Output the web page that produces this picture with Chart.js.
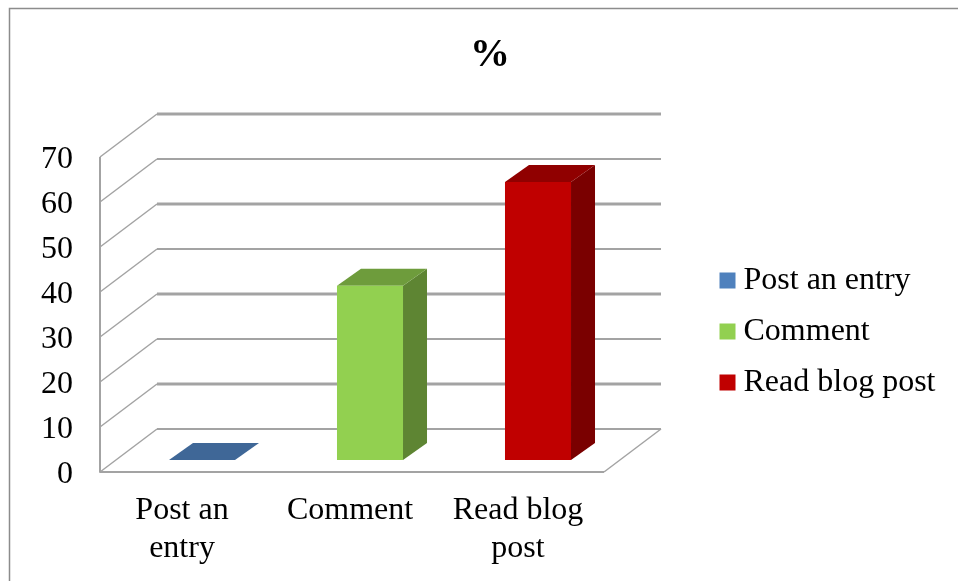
<!DOCTYPE html>
<html>
<head>
<meta charset="utf-8">
<style>html,body{margin:0;padding:0;background:#fff}canvas{display:block}</style>
<script src="https://cdn.jsdelivr.net/npm/chart.js@4"></script>
</head>
<body>
<canvas id="c" width="958" height="581"></canvas>
<script>
const categories = [['Post an','entry'],['Comment'],['Read blog','post']];
const values = [0, 38.7, 61.8];
const yTicks = [0,10,20,30,40,50,60,70];
const frontColors = ['#4F81BD','#92D050','#C00000'];
const topColors = ['#3F6797','#6E9C3C','#900000'];
const sideColors = ['#3F6797','#5E8533','#7A0000'];
const thickGrid = [10,30,50,70];
const FONT = '"Liberation Serif"';
const WALL = {dx:57, dy:-43};
const BAR_SHIFT = {dx:18, dy:-12};
const BAR_DEPTH = {dx:24, dy:-17};
const GRID = '#A3A3A3';

function quad(ctx, pts, color){
  ctx.fillStyle = color;
  ctx.beginPath();
  pts.forEach((p,i)=> i ? ctx.lineTo(p[0],p[1]) : ctx.moveTo(p[0],p[1]));
  ctx.closePath();
  ctx.fill();
}

const scene3d = {
  id:'scene3d',
  afterLayout(chart){
    const t = chart.titleBlock; t.left = 0; t.right = 980;
    const l = chart.legend;
    l.left = 708.5; l.right = chart.width;
    l.top += 41; l.bottom += 41;
  },
  beforeDraw(chart){
    const ctx = chart.ctx;
    ctx.save();
    ctx.strokeStyle = '#8C8C8C';
    ctx.lineWidth = 1.5;
    ctx.beginPath();
    ctx.moveTo(9.5,chart.height); ctx.lineTo(9.5,8.5); ctx.lineTo(chart.width,8.5);
    ctx.stroke();
    ctx.restore();
  },
  beforeDatasetsDraw(chart){
    const ctx = chart.ctx, ys = chart.scales.y, a = chart.chartArea;
    ctx.save();
    ctx.strokeStyle = GRID;
    ctx.lineJoin = 'round';
    yTicks.forEach(v=>{
      const y = ys.getPixelForValue(v);
      ctx.lineWidth = 1.5;
      ctx.beginPath();
      ctx.moveTo(a.left,y); ctx.lineTo(a.left+WALL.dx,y+WALL.dy);
      ctx.stroke();
      ctx.lineWidth = thickGrid.includes(v) ? 3 : 2;
      ctx.beginPath();
      ctx.moveTo(a.left+WALL.dx,y+WALL.dy); ctx.lineTo(a.right+WALL.dx,y+WALL.dy);
      ctx.stroke();
    });
    ctx.lineWidth = 2;
    ctx.beginPath();
    ctx.moveTo(a.left,a.top); ctx.lineTo(a.left,a.bottom); ctx.lineTo(a.right,a.bottom);
    ctx.stroke();
    ctx.lineWidth = 1.5;
    ctx.beginPath();
    ctx.moveTo(a.right,a.bottom); ctx.lineTo(a.right+WALL.dx,a.bottom+WALL.dy);
    ctx.stroke();
    ctx.restore();
    ctx.save();
    ctx.translate(BAR_SHIFT.dx,BAR_SHIFT.dy);
    chart.getDatasetMeta(0).data.forEach((bar,i)=>{
      const L = bar.x-bar.width/2, R = bar.x+bar.width/2, T = bar.y, B = bar.base;
      const d = BAR_DEPTH;
      quad(ctx,[[R,T],[R+d.dx,T+d.dy],[R+d.dx,B+d.dy],[R,B]],sideColors[i]);
      quad(ctx,[[L,T],[R,T],[R+d.dx,T+d.dy],[L+d.dx,T+d.dy]],topColors[i]);
    });
  },
  afterDatasetsDraw(chart){
    chart.ctx.restore();
  }
};

new Chart(document.getElementById('c'),{
  type:'bar',
  data:{
    labels:categories,
    datasets:[{label:'%',data:values,backgroundColor:frontColors,borderWidth:0,
      categoryPercentage:1,barPercentage:0.393,clip:false}]
  },
  plugins:[scene3d],
  options:{
    responsive:false,
    animation:false,
    devicePixelRatio:1,
    layout:{padding:{left:22,right:254,top:0,bottom:0}},
    plugins:{
      tooltip:{enabled:false},
      title:{display:true,text:'%',color:'#000',
        font:{family:FONT,size:40,weight:'bold'},
        padding:{top:32,bottom:77}},
      legend:{
        position:'right',
        maxWidth:100,
        labels:{
          color:'#000',
          font:{family:FONT,size:32},
          usePointStyle:true,
          boxWidth:0.01,
          boxHeight:16,
          padding:19,
          generateLabels(){
            return categories.map((c,i)=>({
              text:c.join(' '),fillStyle:frontColors[i],strokeStyle:frontColors[i],
              lineWidth:0,pointStyle:'rect',hidden:false,index:i,datasetIndex:0
            }));
          }
        }
      }
    },
    scales:{
      x:{
        afterFit(s){ s.height = 109; },
        grid:{display:false},
        border:{display:false},
        ticks:{color:'#000',font:{family:FONT,size:32},padding:11,autoSkip:false,
          maxRotation:0,minRotation:0,labelOffset:-2}
      },
      y:{
        min:0,max:70,
        afterFit(s){ s.width = 78; },
        afterBuildTicks(s){ s.ticks = yTicks.map(v=>({value:v})); },
        grid:{display:false,drawTicks:false},
        border:{display:false},
        ticks:{color:'#000',font:{family:FONT,size:32},padding:27,labelOffset:3}
      }
    }
  }
});
</script>
</body>
</html>
